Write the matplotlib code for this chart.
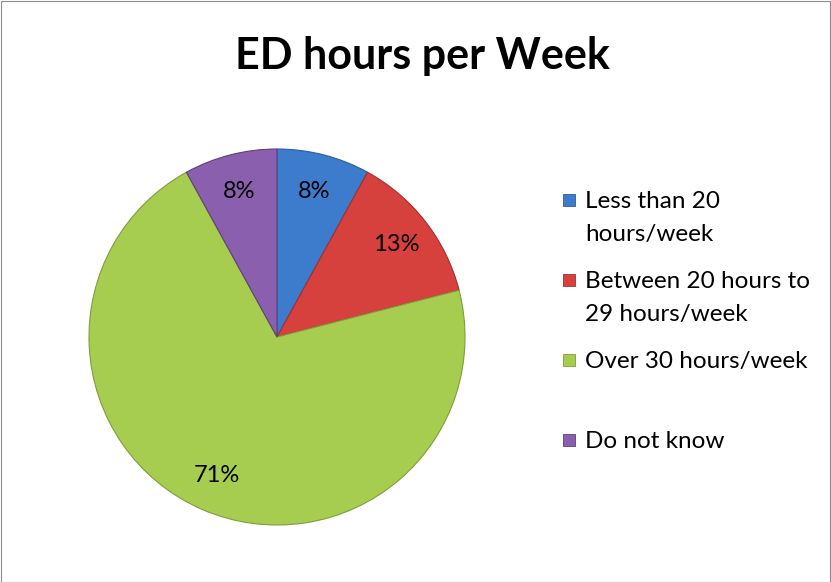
import matplotlib.pyplot as plt
from matplotlib.patches import Rectangle

title = "ED hours per Week"
categories = ["Less than 20\nhours/week", "Between 20 hours to\n29 hours/week",
              "Over 30 hours/week", "Do not know"]
shares = [8, 13, 71, 8]
colors = ["#3d7ccc", "#d6403d", "#a6cc50", "#8a5fad"]
edge_colors = ["#2c5d9c", "#a52f2c", "#7f9e3a", "#5f3f7a"]

W, H = 831, 582
fig = plt.figure(figsize=(W / 100, H / 100), dpi=100)
plt.rcParams['font.family'] = ['Lato', 'DejaVu Sans']

# pie area: centre (277, 337) px, radius 188 px
cx, cy, r = 277, 337, 188
ax = fig.add_axes([(cx - r) / W, (H - cy - r) / H, 2 * r / W, 2 * r / H])
wedges, texts, autotexts = ax.pie(shares, colors=colors, startangle=90, counterclock=False,
                                  autopct=lambda p: f"{p:.0f}%", pctdistance=0.8,
                                  wedgeprops=dict(linewidth=0.8),
                                  textprops=dict(fontsize=17, color="black"))
for w, ec in zip(wedges, edge_colors):
    w.set_edgecolor(ec)
ax.set_xlim(-1.0, 1.0)
ax.set_ylim(-1.0, 1.0)
ax.set_aspect("equal")

fig.text(422 / W, 1 - 56 / H, title, ha="center", va="center",
         fontsize=31, fontweight="bold")

# legend, drawn by hand so the entries sit in even slots like the original
for i, (lab, col, ec) in enumerate(zip(categories, colors, edge_colors)):
    y = 200 + 80 * i
    fig.patches.append(Rectangle((563 / W, 1 - (y + 6) / H), 12 / W, 12 / H,
                                 transform=fig.transFigure, facecolor=col,
                                 edgecolor=ec, linewidth=0.6))
    fig.text(585 / W, 1 - (y - 9) / H, lab, ha="left", va="top",
             fontsize=17.5, linespacing=1.7)

fig.patches.append(Rectangle((0.5 / W, 0.5 / H), 1 - 1.5 / W, 1 - 1.5 / H,
                             transform=fig.transFigure, fill=False,
                             edgecolor="#8c8c8c", linewidth=0.8))

fig.savefig("out.png", dpi=100)
